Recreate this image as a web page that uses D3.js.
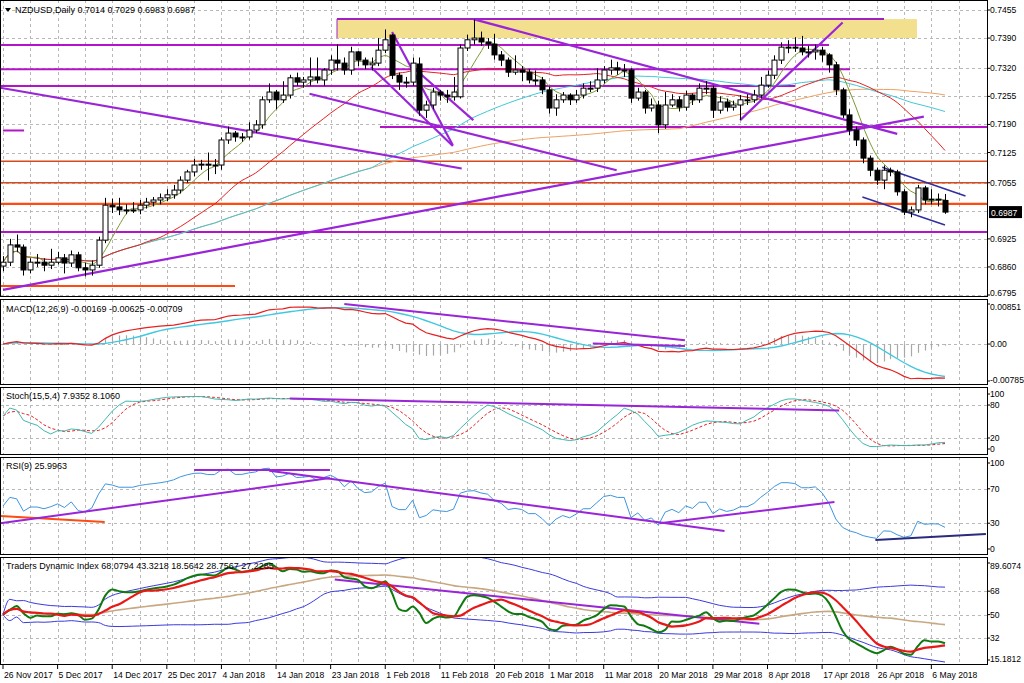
<!DOCTYPE html>
<html><head><meta charset="utf-8">
<script src="https://cdn.jsdelivr.net/npm/d3@7"></script>
<style>body{margin:0;background:#fff}svg{display:block}text{font-family:"Liberation Sans",Arial,sans-serif;font-size:9px;fill:#000}text.ax{font-size:8.6px}</style>
</head><body><svg id="c" width="1024" height="683"></svg>
<script>
// Prices stored as price x 10000
const opens=[6862,6871,6911,6906,6853,6871,6871,6864,6871,6881,6869,6888,6858,6853,6864,6922,7003,6999,6992,6992,6992,7003,7010,7015,7020,7027,7038,7061,7080,7096,7098,7096,7096,7154,7170,7161,7161,7177,7189,7247,7265,7247,7258,7298,7288,7293,7300,7293,7316,7339,7332,7316,7358,7339,7328,7332,7362,7397,7304,7288,7288,7330,7223,7235,7265,7258,7254,7254,7367,7386,7390,7381,7376,7351,7339,7311,7316,7311,7293,7293,7270,7228,7247,7258,7247,7258,7274,7274,7293,7316,7321,7316,7316,7251,7265,7228,7235,7189,7235,7247,7230,7258,7247,7274,7274,7223,7242,7230,7235,7247,7247,7258,7281,7304,7339,7369,7369,7367,7358,7358,7362,7351,7328,7270,7212,7177,7154,7112,7084,7061,7084,7080,7034,6987,6992,7043,7015,7017,7014];
const highs=[6885,6925,6935,6912,6880,6890,6880,6902,6895,6890,6898,6895,6870,6875,6930,7020,7018,7020,7005,7010,7015,7020,7022,7030,7040,7050,7070,7085,7110,7108,7125,7110,7160,7185,7175,7170,7195,7200,7255,7285,7270,7290,7305,7310,7300,7345,7345,7320,7350,7375,7345,7370,7360,7345,7345,7390,7410,7400,7310,7300,7345,7345,7245,7275,7270,7270,7300,7375,7398,7433,7405,7390,7400,7360,7345,7350,7325,7318,7315,7300,7278,7260,7265,7262,7270,7285,7290,7320,7325,7340,7335,7330,7320,7275,7270,7250,7245,7265,7260,7255,7268,7262,7285,7290,7280,7255,7250,7245,7258,7260,7270,7300,7315,7350,7380,7385,7392,7395,7372,7375,7370,7355,7335,7275,7225,7185,7160,7118,7090,7095,7090,7085,7040,7000,7050,7048,7040,7030,7029];
const lows=[6850,6862,6895,6840,6845,6860,6850,6855,6866,6845,6860,6850,6838,6840,6858,6915,6985,6980,6982,6985,6982,6995,7000,7005,7012,7018,7030,7055,7070,7085,7060,7075,7085,7145,7150,7150,7155,7170,7180,7240,7225,7240,7250,7280,7275,7280,7285,7280,7305,7315,7305,7305,7325,7318,7315,7325,7355,7295,7270,7275,7280,7210,7205,7225,7245,7240,7245,7250,7360,7375,7372,7365,7340,7325,7300,7305,7290,7285,7280,7260,7215,7210,7240,7235,7240,7250,7265,7265,7285,7305,7305,7300,7240,7245,7215,7220,7170,7180,7230,7220,7222,7235,7240,7260,7205,7215,7220,7222,7200,7235,7240,7250,7275,7295,7330,7355,7358,7350,7345,7340,7335,7310,7258,7205,7165,7140,7100,7070,7050,7040,7070,7025,6980,6975,6985,7005,7005,7000,6983];
const closes=[6871,6911,6906,6853,6871,6871,6864,6871,6881,6869,6888,6858,6853,6864,6922,7003,6999,6992,6992,6992,7003,7010,7015,7020,7027,7038,7061,7080,7096,7098,7096,7096,7154,7170,7161,7161,7177,7189,7247,7265,7247,7258,7298,7288,7293,7300,7293,7316,7339,7332,7316,7358,7339,7328,7332,7362,7386,7304,7288,7288,7332,7223,7235,7265,7258,7254,7265,7367,7386,7390,7381,7376,7351,7339,7311,7316,7311,7293,7293,7270,7228,7247,7258,7247,7258,7274,7274,7293,7316,7321,7316,7316,7251,7265,7228,7235,7189,7235,7247,7230,7258,7247,7274,7274,7223,7242,7230,7235,7247,7247,7258,7281,7304,7339,7369,7369,7367,7358,7358,7362,7351,7328,7270,7212,7177,7154,7112,7084,7061,7084,7080,7034,6987,6992,7043,7015,7017,7015,6987];
const dateLabels=["26 Nov 2017","5 Dec 2017","14 Dec 2017","25 Dec 2017","4 Jan 2018","14 Jan 2018","23 Jan 2018","1 Feb 2018","11 Feb 2018","20 Feb 2018","1 Mar 2018","11 Mar 2018","20 Mar 2018","29 Mar 2018","8 Apr 2018","17 Apr 2018","26 Apr 2018","6 May 2018"];
const priceTicks=[0.7455,0.7390,0.7320,0.7255,0.7190,0.7125,0.7055,0.6925,0.6860,0.6795];
const lastPrice=0.6987;
const macdTicks=[0.00851,0.00,-0.00785], macdTickLabels=["0.00851","0.00","-0.00785"];
const stochTicks=[100,80,20,0], rsiTicks=[100,70,30,0], tdiTicks=[89.6074,68,50,32,15.1812];
const magentaLevels=[{p:0.7374,x1:0,x2:829},{p:0.7318,x1:0,x2:850},{p:0.7279,x1:0,x2:795},{p:0.7184,x1:380,x2:988},{p:0.6941,x1:0,x2:988}];
const orangeLevels=[{p:0.7105,w:1.5},{p:0.7055,w:1.5},{p:0.7006,w:2.2}];
const priceTrend=[[[-0.4,0.7275],[67.2,0.7088]],[[44.9,0.7261],[89.9,0.7084]],[[0,0.6807],[134.9,0.7208]],[[57,0.7404],[65.9,0.7142]],[[53.9,0.7323],[65.9,0.7140]],[[60,0.7323],[68.9,0.7200]],[[68.9,0.7434],[131,0.7168]],[[108,0.7200],[123,0.7426]]];
const channel=[[[128.8,0.7091],[141,0.7024]],[[125.9,0.7022],[138,0.6957]]];

const P=v=>v/10000;
const N=closes.length;
const svg=d3.select("#c");
const plotR=988;
const x=d3.scaleLinear().domain([0,138]).range([3,945]);
const panels={main:{y0:0,y1:297},macd:{y0:299,y1:385},stoch:{y0:387,y1:455},rsi:{y0:457,y1:555},tdi:{y0:557,y1:665}};
const yMain=d3.scaleLinear().domain([0.6795,0.7455]).range([295,10]);
const yMacd=d3.scaleLinear().domain([-0.00785,0.00851]).range([381,304]);
const yStoch=d3.scaleLinear().domain([0,100]).range([449,394]);
const yRsi=d3.scaleLinear().domain([0,100]).range([549,463]);
const yTdi=d3.scaleLinear().domain([15.1812,89.6074]).range([660,563]);

const defs=svg.append("defs");
Object.entries(panels).forEach(([k,p])=>{defs.append("clipPath").attr("id","cp-"+k).append("rect").attr("x",0).attr("y",p.y0).attr("width",plotR).attr("height",p.y1-p.y0);});
const grid=svg.append("g");
const g={};Object.keys(panels).forEach(k=>g[k]=svg.append("g").attr("clip-path","url(#cp-"+k+")"));

Object.values(panels).forEach(p=>{for(let i=0;i<=140;i+=4){const xx=Math.round(x(i))+0.5;if(xx<2||xx>plotR-2)continue;grid.append("line").attr("x1",xx).attr("x2",xx).attr("y1",p.y0).attr("y2",p.y1).attr("stroke","#b8b8b8").attr("stroke-dasharray","3,3");}});
function hgrid(y){grid.append("line").attr("x1",0).attr("x2",plotR).attr("y1",Math.round(y)+0.5).attr("y2",Math.round(y)+0.5).attr("stroke","#b8b8b8").attr("stroke-dasharray","3,3");}
priceTicks.forEach(t=>hgrid(yMain(t)));hgrid(yMain(0.6990));
hgrid(yMacd(0));[80,20].forEach(t=>hgrid(yStoch(t)));[70,30].forEach(t=>hgrid(yRsi(t)));[68,50,32].forEach(t=>hgrid(yTdi(t)));

const gm=g.main;
gm.append("rect").attr("x",337).attr("y",yMain(0.7434)).attr("width",580).attr("height",yMain(0.7390)-yMain(0.7434)).attr("fill","#f3e08e");
gm.append("line").attr("x1",337).attr("x2",884).attr("y1",yMain(0.7434)).attr("y2",yMain(0.7434)).attr("stroke","#a020c8").attr("stroke-width",2);
gm.append("line").attr("x1",337).attr("x2",337).attr("y1",yMain(0.7434)).attr("y2",yMain(0.7390)).attr("stroke","#a020c8").attr("stroke-width",1);
magentaLevels.forEach(l=>gm.append("line").attr("x1",l.x1).attr("x2",l.x2).attr("y1",yMain(l.p)).attr("y2",yMain(l.p)).attr("stroke","#b414c8").attr("stroke-width",2));
gm.append("line").attr("x1",3).attr("x2",24).attr("y1",yMain(0.7176)).attr("y2",yMain(0.7176)).attr("stroke","#b414c8").attr("stroke-width",2);
orangeLevels.forEach(l=>gm.append("line").attr("x1",0).attr("x2",plotR).attr("y1",yMain(l.p)).attr("y2",yMain(l.p)).attr("stroke",l.w>2?"#ff4a12":"#d64a1e").attr("stroke-width",l.w));
gm.append("line").attr("x1",0).attr("x2",235).attr("y1",yMain(0.6816)).attr("y2",yMain(0.6816)).attr("stroke","#ff4a12").attr("stroke-width",2);

function sma(arr,n){return arr.map((_,i)=>d3.mean(arr.slice(Math.max(0,i-n+1),i+1)));}
function ema(arr,n){const k=2/(n+1);let e=arr[0];return arr.map(v=>e=v*k+e*(1-k));}
const C=closes.map(P);
const maDefs=[{n:100,c:"#f0a060"},{n:55,c:"#40c8d8"},{n:21,c:"#e82020"},{n:5,c:"#7a9a30"}];
const lineMain=d3.line().x((d,i)=>x(i)).y(d=>yMain(d)).curve(d3.curveMonotoneX);
maDefs.forEach(m=>gm.append("path").attr("d",lineMain(sma(C,m.n))).attr("fill","none").attr("stroke",m.c).attr("stroke-width",1));

const tl=(gp,ys,pts,c,w)=>gp.append("line").attr("x1",x(pts[0][0])).attr("y1",ys(pts[0][1])).attr("x2",x(pts[1][0])).attr("y2",ys(pts[1][1])).attr("stroke",c).attr("stroke-width",w);
priceTrend.forEach(t=>tl(gm,yMain,t,"#9a24d8",2.2));
channel.forEach(t=>tl(gm,yMain,t,"#3030a0",1.6));

const cg=gm.append("g");
d3.range(N).forEach(i=>{const o=P(opens[i]),h=P(highs[i]),l=P(lows[i]),c=P(closes[i]);const xx=Math.round(x(i))+0.5;
 cg.append("line").attr("x1",xx).attr("x2",xx).attr("y1",yMain(h)).attr("y2",yMain(l)).attr("stroke","#000");
 const top=yMain(Math.max(o,c)),bot=yMain(Math.min(o,c));
 cg.append("rect").attr("x",xx-2.5).attr("y",top).attr("width",5).attr("height",Math.max(1,bot-top)).attr("fill",c>=o?"#fff":"#000").attr("stroke","#000").attr("stroke-width",1);});

const e26=ema(C,26);
const macdLine=ema(C,12).map((v,i)=>v-e26[i]);
const signal=sma(macdLine,9);
const gmac=g.macd;
macdLine.forEach((v,i)=>{const xx=Math.round(x(i))+0.5;gmac.append("line").attr("x1",xx).attr("x2",xx).attr("y1",yMacd(0)).attr("y2",yMacd(v-signal[i])).attr("stroke","#a8a8a8").attr("stroke-width",1.2);});
gmac.append("path").attr("d",d3.line().x((d,i)=>x(i)).y(d=>yMacd(d))(signal)).attr("fill","none").attr("stroke","#40c8e0").attr("stroke-width",1.4);
gmac.append("path").attr("d",d3.line().x((d,i)=>x(i)).y(d=>yMacd(d))(macdLine)).attr("fill","none").attr("stroke","#e82020").attr("stroke-width",1.2);
[[[50,0.0085],[99.9,0.0008]],[[86.4,0.0001],[99.9,-0.0004]]].forEach(t=>tl(gmac,yMacd,t,"#9a24d8",2));

const H=highs.map(P),L=lows.map(P);
const kRaw=d3.range(N).map(i=>{let num=0,den=0;for(let j=Math.max(0,i-4);j<=i;j++){const s=Math.max(0,j-14);const hh=d3.max(H.slice(s,j+1)),ll=d3.min(L.slice(s,j+1));num+=C[j]-ll;den+=hh-ll;}return den?num/den*100:50;});
const dLine=sma(kRaw,4);
const gs=g.stoch;
gs.append("path").attr("d",d3.line().x((d,i)=>x(i)).y(d=>yStoch(d))(dLine)).attr("fill","none").attr("stroke","#e82020").attr("stroke-dasharray","3,2");
gs.append("path").attr("d",d3.line().x((d,i)=>x(i)).y(d=>yStoch(d))(kRaw)).attr("fill","none").attr("stroke","#40b8b0");
tl(gs,yStoch,[[42,92],[122.5,70]],"#9a24d8",2);

function rsi(arr,n){let ag=0.001,al=0.001;return arr.map((v,i)=>{if(i===0)return 50;const d=v-arr[i-1];ag=(ag*(n-1)+Math.max(d,0))/n;al=(al*(n-1)+Math.max(-d,0))/n;return 100-100/(1+ag/al);});}
const rsi9=rsi(C,9);
const gr=g.rsi;
gr.append("path").attr("d",d3.line().x((d,i)=>x(i)).y(d=>yRsi(d))(rsi9)).attr("fill","none").attr("stroke","#3d95e0");
tl(gr,yRsi,[[-0.4,38.4],[14.9,31.4]],"#ff4a12",2);
tl(gr,yRsi,[[-0.4,30],[47.9,82.5]],"#9a24d8",2);
tl(gr,yRsi,[[28,92],[47.9,92]],"#9a24d8",2);
tl(gr,yRsi,[[39,91],[105.7,21]],"#9a24d8",2);
tl(gr,yRsi,[[96.2,30],[121.8,54.6]],"#9a24d8",2);
tl(gr,yRsi,[[127.8,10.5],[144,17.5]],"#2a2a80",2);

const r13=rsi(C,13);
const green=sma(r13,2),red=sma(r13,7),mid=sma(r13,34);
const sd=d3.range(N).map(i=>{const s=r13.slice(Math.max(0,i-33),i+1);return s.length>1?d3.deviation(s):0;});
const up=mid.map((m,i)=>m+1.6185*sd[i]),dn=mid.map((m,i)=>m-1.6185*sd[i]);
const gt=g.tdi;const lt=d3.line().x((d,i)=>x(i)).y(d=>yTdi(d)).curve(d3.curveMonotoneX);
gt.append("path").attr("d",lt(up)).attr("fill","none").attr("stroke","#3a3ae0");
gt.append("path").attr("d",lt(dn)).attr("fill","none").attr("stroke","#3a3ae0");
gt.append("path").attr("d",lt(mid)).attr("fill","none").attr("stroke","#c8a882").attr("stroke-width",1.6);
tl(gt,yTdi,[[48.6,77],[110.8,43]],"#9a24d8",2);
gt.append("path").attr("d",lt(green)).attr("fill","none").attr("stroke","#107a10").attr("stroke-width",2);
gt.append("path").attr("d",lt(red)).attr("fill","none").attr("stroke","#e81818").attr("stroke-width",2.2);

Object.values(panels).forEach(p=>svg.append("rect").attr("x",0.5).attr("y",p.y0+0.5).attr("width",plotR-1).attr("height",p.y1-p.y0-1).attr("fill","none").attr("stroke","#000"));
function rlabels(ys,ticks,labels,dy){ticks.forEach((t,i)=>{const y=ys(t);svg.append("line").attr("x1",plotR).attr("x2",plotR+2).attr("y1",y).attr("y2",y).attr("stroke","#000");svg.append("text").attr("class","ax").attr("x",990).attr("y",y+3+((dy&&dy[i])||0)).text(labels?labels[i]:t);});}
rlabels(yMain,priceTicks,priceTicks.map(d=>d.toFixed(4)),[0,0,0,0,0,0,0,0,0,-2]);
const ly=yMain(lastPrice);
svg.append("rect").attr("x",989).attr("y",ly-6).attr("width",33).attr("height",12).attr("fill","#000");
svg.append("text").attr("class","ax").attr("x",991).attr("y",ly+3.5).style("fill","#fff").text(lastPrice.toFixed(4));
rlabels(yMacd,macdTicks,macdTickLabels,[3,0,-1]);
rlabels(yStoch,stochTicks);rlabels(yRsi,rsiTicks);
rlabels(yTdi,tdiTicks,tdiTicks.map(String),[3,0,0,0,-1]);
dateLabels.forEach((d,k)=>{const xx=x(k*8);svg.append("line").attr("x1",xx).attr("x2",xx).attr("y1",665).attr("y2",669).attr("stroke","#000");svg.append("text").attr("class","ax").attr("x",xx+1).attr("y",678).text(d);});

svg.append("path").attr("d","M5,8 L11,8 L8,12 Z").attr("fill","#000");
svg.append("text").attr("x",15).attr("y",13).text("NZDUSD,Daily  0.7014 0.7029 0.6983 0.6987");
svg.append("text").attr("x",6).attr("y",312).text("MACD(12,26,9) -0.00169 -0.00625 -0.00709");
svg.append("text").attr("x",6).attr("y",399).text("Stoch(15,5,4) 7.9352 8.1060");
svg.append("text").attr("x",6).attr("y",469).text("RSI(9) 25.9963");
svg.append("text").attr("x",6).attr("y",569).text("Traders Dynamic Index 68.0794 43.3218 18.5642 28.7567 27.2285");
</script></body></html>
